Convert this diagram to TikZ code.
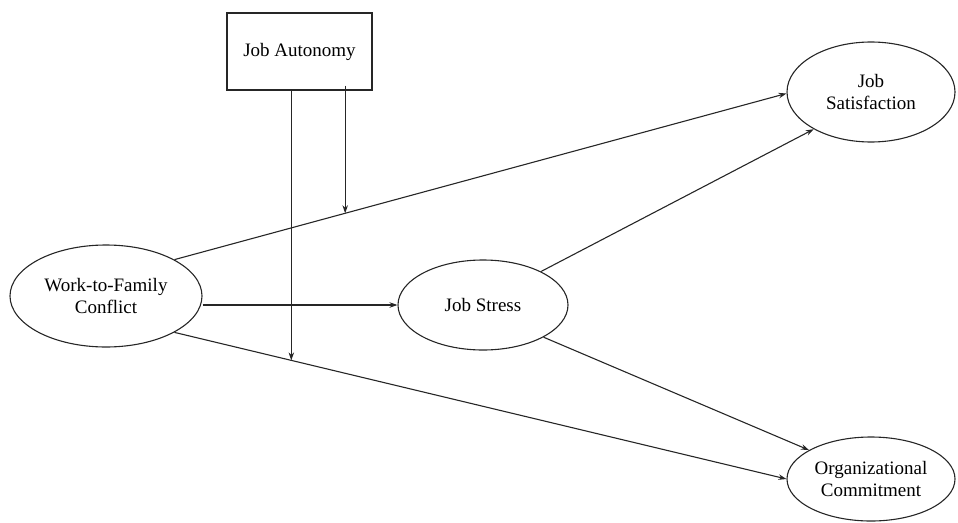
\documentclass[tikz,border=0pt]{standalone}
\usepackage{fontspec}
\setmainfont{Liberation Serif}
\usetikzlibrary{shapes.geometric,arrows.meta}
\begin{document}
\begin{tikzpicture}[x=1pt,y=-1pt,
  every node/.style={font=\fontsize{19}{22}\selectfont, align=center, inner sep=0pt},
  oval/.style={ellipse, draw=black!85, line width=1.1pt},
  boxnode/.style={rectangle, draw=black!85, line width=1.1pt},
  conn/.style={draw=black!85, line width=1.1pt, -{Stealth[length=8pt,width=5.5pt]}}]
\useasboundingbox (0,0) rectangle (958,522);
\node[boxnode, minimum width=145pt, minimum height=77pt] (ja) at (299.5,51.5) {Job Autonomy};
\node[oval, minimum width=192pt, minimum height=102pt] (wfc) at (106,296) {Work-to-Family\\Conflict};
\node[oval, minimum width=170pt, minimum height=90pt] (js) at (483,305) {Job Stress};
\node[oval, minimum width=168pt, minimum height=100pt] (sat) at (871,92) {Job\\Satisfaction};
\node[oval, minimum width=168pt, minimum height=84pt] (oc) at (871,479) {Organizational\\Commitment};
\draw[conn] (wfc.28) -- (sat.181) coordinate[pos=0.279] (m2);
\draw[conn] (js.west -| wfc.east) -- (js.west);
\draw[conn] (wfc.-28) -- (oc.west) coordinate[pos=0.191] (m1);
\draw[conn] (js.30) -- (sat.213);
\draw[conn] (js.-28) -- (oc.155);
\draw[conn] (ja.south -| m1) -- (m1);
\coordinate (m2top) at ([yshift=5pt]ja.south -| m2);
\draw[conn] (m2top) -- (m2);
\end{tikzpicture}
\end{document}
